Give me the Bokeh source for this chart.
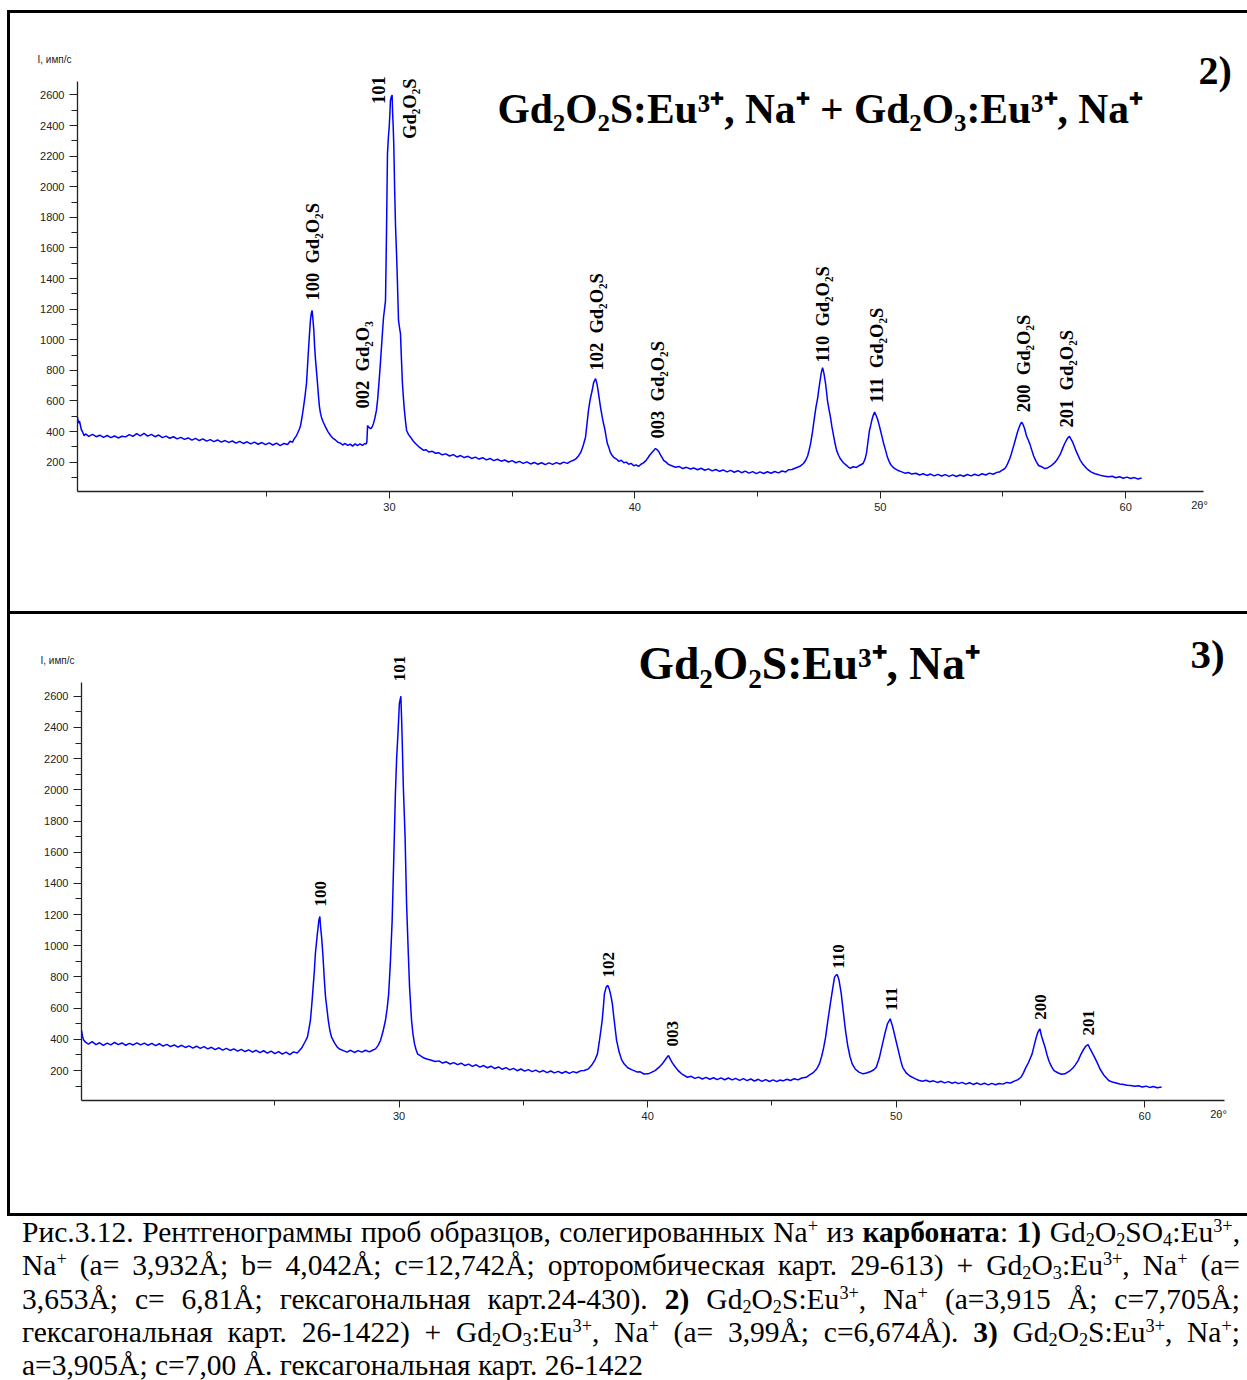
from bokeh.plotting import figure
from bokeh.models import Range1d, FixedTicker, Label, Div, Spacer, LinearAxis
from bokeh.layouts import column, row
from bokeh.embed import file_html
from bokeh.resources import INLINE

# ---------------------------------------------------------------------------
# Diffraction scans: (2θ, degrees ; intensity, counts per second)
# ---------------------------------------------------------------------------
scan_2 = [
    (17.29, 494), (17.33, 455), (17.37, 470), (17.45, 410), (17.49, 400), (17.56, 372),
    (17.62, 385), (17.75, 368), (17.90, 381), (18.05, 366), (18.20, 376), (18.35, 362),
    (18.50, 374), (18.65, 360), (18.80, 371), (18.95, 358), (19.10, 369), (19.25, 365),
    (19.40, 380), (19.55, 368), (19.70, 386), (19.85, 372), (20.00, 388), (20.15, 370),
    (20.30, 381), (20.45, 366), (20.60, 377), (20.75, 360), (20.90, 370), (21.05, 356),
    (21.20, 366), (21.35, 352), (21.50, 362), (21.65, 349), (21.80, 358), (21.95, 344),
    (22.10, 355), (22.25, 341), (22.40, 352), (22.55, 337), (22.70, 347), (22.85, 334),
    (23.00, 345), (23.15, 331), (23.30, 341), (23.45, 329), (23.60, 338), (23.75, 324),
    (23.90, 336), (24.05, 322), (24.20, 333), (24.35, 319), (24.50, 331), (24.65, 317),
    (24.80, 328), (24.95, 314), (25.10, 326), (25.25, 312), (25.40, 324), (25.55, 308),
    (25.70, 322), (25.85, 315), (25.95, 336), (26.05, 330), (26.12, 352), (26.20, 370),
    (26.25, 387), (26.32, 412), (26.38, 440), (26.44, 495), (26.50, 559), (26.56, 630),
    (26.62, 714), (26.66, 820), (26.70, 930), (26.74, 1030), (26.78, 1126), (26.82, 1175),
    (26.85, 1191), (26.88, 1140), (26.92, 1061), (26.95, 960), (26.99, 865), (27.03, 790),
    (27.07, 714), (27.11, 630), (27.15, 559), (27.19, 520), (27.23, 494), (27.30, 462),
    (27.40, 429), (27.50, 398), (27.60, 374), (27.70, 356), (27.80, 345), (27.90, 330),
    (28.00, 324), (28.10, 312), (28.20, 322), (28.30, 309), (28.40, 318), (28.50, 305),
    (28.60, 319), (28.70, 308), (28.80, 320), (28.90, 309), (29.00, 322), (29.05, 318),
    (29.08, 330), (29.11, 440), (29.15, 428), (29.19, 425), (29.23, 418), (29.27, 424),
    (29.31, 436), (29.35, 453), (29.41, 490), (29.47, 538), (29.52, 610), (29.56, 690),
    (29.60, 775), (29.64, 865), (29.70, 1010), (29.76, 1147), (29.80, 1200), (29.84, 1256),
    (29.86, 1470), (29.88, 1693), (29.90, 1950), (29.92, 2215), (29.96, 2330), (29.99, 2388),
    (30.02, 2480), (30.04, 2563), (30.08, 2590), (30.11, 2600), (30.13, 2480), (30.15, 2411),
    (30.18, 2258), (30.21, 2000), (30.25, 1735), (30.29, 1560), (30.32, 1408), (30.37, 1126),
    (30.41, 1080), (30.45, 1040), (30.49, 870), (30.53, 714), (30.57, 620), (30.61, 538),
    (30.66, 460), (30.70, 407), (30.78, 380), (30.86, 363), (30.96, 340), (31.06, 322),
    (31.20, 300), (31.30, 288), (31.39, 277), (31.50, 281), (31.60, 266), (31.75, 271),
    (31.88, 258), (32.00, 262), (32.15, 248), (32.30, 254), (32.45, 240), (32.60, 249),
    (32.75, 234), (32.90, 243), (33.05, 230), (33.20, 238), (33.35, 224), (33.50, 233),
    (33.65, 220), (33.80, 229), (33.95, 215), (34.10, 224), (34.25, 210), (34.40, 219),
    (34.55, 206), (34.70, 214), (34.85, 201), (35.00, 210), (35.15, 196), (35.30, 205),
    (35.45, 192), (35.60, 202), (35.75, 188), (35.90, 198), (36.05, 186), (36.20, 196),
    (36.35, 184), (36.50, 195), (36.65, 185), (36.80, 197), (36.95, 188), (37.10, 200),
    (37.25, 192), (37.38, 205), (37.50, 212), (37.62, 225), (37.70, 240), (37.79, 262),
    (37.88, 300), (37.95, 340), (37.99, 363), (38.05, 450), (38.11, 538), (38.18, 610),
    (38.26, 668), (38.32, 720), (38.40, 746), (38.46, 710), (38.52, 648), (38.60, 560),
    (38.67, 494), (38.72, 455), (38.77, 420), (38.83, 365), (38.88, 321), (38.95, 290),
    (39.01, 260), (39.07, 245), (39.13, 233), (39.25, 220), (39.35, 205), (39.45, 212),
    (39.55, 196), (39.65, 200), (39.75, 186), (39.85, 192), (39.95, 176), (40.05, 182),
    (40.15, 172), (40.25, 186), (40.35, 195), (40.45, 210), (40.52, 225), (40.60, 245),
    (40.68, 260), (40.76, 275), (40.84, 289), (40.90, 282), (40.97, 270), (41.05, 245),
    (41.12, 228), (41.17, 211), (41.27, 200), (41.37, 185), (41.50, 176), (41.66, 167),
    (41.80, 172), (41.95, 158), (42.10, 166), (42.27, 155), (42.40, 162), (42.55, 150),
    (42.70, 160), (42.85, 147), (43.00, 156), (43.15, 143), (43.30, 152), (43.45, 140),
    (43.60, 149), (43.75, 136), (43.90, 146), (44.05, 134), (44.20, 144), (44.35, 131),
    (44.50, 141), (44.65, 128), (44.80, 138), (44.95, 125), (45.10, 136), (45.25, 126),
    (45.40, 137), (45.55, 127), (45.70, 139), (45.85, 130), (46.00, 142), (46.15, 136),
    (46.26, 150), (46.40, 152), (46.55, 162), (46.65, 168), (46.75, 175), (46.87, 191),
    (46.96, 212), (47.04, 240), (47.10, 278), (47.16, 321), (47.24, 400), (47.32, 494),
    (47.38, 560), (47.45, 620), (47.49, 670), (47.53, 714), (47.59, 780), (47.65, 818),
    (47.71, 775), (47.77, 714), (47.81, 660), (47.85, 600), (47.91, 545), (47.97, 494),
    (48.03, 430), (48.10, 370), (48.16, 320), (48.22, 277), (48.30, 245), (48.38, 220),
    (48.50, 196), (48.60, 182), (48.70, 168), (48.77, 160), (48.90, 170), (49.03, 165),
    (49.15, 178), (49.30, 191), (49.38, 220), (49.44, 260), (49.50, 335), (49.56, 407),
    (49.61, 440), (49.65, 470), (49.71, 505), (49.77, 527), (49.83, 505), (49.89, 480),
    (49.95, 445), (50.01, 407), (50.08, 360), (50.14, 320), (50.22, 275), (50.29, 233),
    (50.36, 205), (50.42, 185), (50.55, 162), (50.73, 145), (50.85, 138), (51.00, 128),
    (51.15, 132), (51.28, 122), (51.45, 127), (51.60, 116), (51.75, 124), (51.90, 113),
    (52.05, 122), (52.20, 110), (52.35, 120), (52.50, 109), (52.65, 118), (52.80, 107),
    (52.95, 117), (53.10, 106), (53.25, 116), (53.40, 108), (53.55, 119), (53.70, 110),
    (53.85, 121), (54.00, 112), (54.15, 124), (54.30, 116), (54.45, 128), (54.60, 121),
    (54.75, 133), (54.85, 135), (54.95, 146), (55.05, 155), (55.11, 165), (55.19, 190),
    (55.27, 220), (55.33, 248), (55.38, 277), (55.45, 315), (55.51, 350), (55.58, 390),
    (55.64, 420), (55.70, 445), (55.76, 461), (55.82, 445), (55.88, 420), (55.92, 395),
    (55.96, 370), (56.03, 345), (56.09, 321), (56.17, 280), (56.25, 240), (56.35, 205),
    (56.45, 178), (56.60, 168), (56.70, 158), (56.81, 162), (56.95, 175), (57.06, 190),
    (57.15, 205), (57.23, 222), (57.29, 240), (57.35, 257), (57.43, 290), (57.51, 320),
    (57.60, 348), (57.66, 362), (57.71, 368), (57.77, 350), (57.84, 330), (57.90, 305),
    (57.96, 280), (58.06, 244), (58.15, 212), (58.24, 190), (58.40, 160), (58.50, 146),
    (58.60, 135), (58.75, 124), (58.90, 118), (59.00, 112), (59.15, 108), (59.30, 104),
    (59.45, 108), (59.60, 98), (59.75, 104), (59.90, 95), (60.05, 102), (60.20, 93),
    (60.35, 99), (60.50, 90), (60.65, 96),
]

scan_3 = [
    (17.22, 457), (17.26, 420), (17.30, 398), (17.38, 382), (17.50, 370), (17.65, 385),
    (17.80, 366), (17.95, 378), (18.10, 362), (18.25, 376), (18.40, 365), (18.55, 380),
    (18.70, 366), (18.85, 377), (19.00, 362), (19.15, 374), (19.30, 364), (19.45, 378),
    (19.60, 365), (19.75, 376), (19.90, 362), (20.05, 374), (20.20, 360), (20.35, 372),
    (20.50, 357), (20.65, 368), (20.80, 353), (20.95, 364), (21.10, 350), (21.25, 362),
    (21.40, 348), (21.55, 358), (21.70, 344), (21.85, 356), (22.00, 342), (22.15, 353),
    (22.30, 339), (22.45, 349), (22.60, 334), (22.75, 346), (22.90, 331), (23.05, 342),
    (23.20, 329), (23.35, 339), (23.50, 325), (23.65, 336), (23.80, 322), (23.95, 333),
    (24.10, 318), (24.25, 330), (24.40, 315), (24.55, 327), (24.70, 312), (24.85, 325),
    (25.00, 308), (25.15, 322), (25.30, 305), (25.45, 318), (25.60, 302), (25.75, 320),
    (25.90, 312), (26.00, 330), (26.10, 350), (26.20, 380), (26.31, 414), (26.37, 465),
    (26.43, 521), (26.49, 630), (26.54, 735), (26.59, 840), (26.63, 949), (26.70, 1060),
    (26.77, 1163), (26.81, 1188), (26.84, 1120), (26.88, 1056), (26.93, 950), (26.97, 842),
    (27.00, 760), (27.04, 671), (27.10, 590), (27.15, 521), (27.21, 460), (27.28, 414),
    (27.40, 378), (27.51, 350), (27.60, 338), (27.76, 328), (27.90, 318), (28.05, 330),
    (28.20, 316), (28.35, 328), (28.50, 318), (28.65, 330), (28.80, 320), (28.95, 332),
    (29.05, 339), (29.15, 360), (29.25, 393), (29.35, 450), (29.45, 521), (29.52, 600),
    (29.58, 692), (29.65, 900), (29.72, 1163), (29.79, 1591), (29.85, 1976), (29.90, 2200),
    (29.96, 2382), (30.01, 2553), (30.07, 2600), (30.11, 2403), (30.17, 2018), (30.24, 1697),
    (30.30, 1270), (30.37, 949), (30.42, 735), (30.50, 521), (30.56, 430), (30.62, 371),
    (30.68, 335), (30.74, 307), (30.85, 295), (31.00, 280), (31.15, 272), (31.30, 266),
    (31.45, 258), (31.60, 262), (31.75, 248), (31.90, 256), (32.05, 242), (32.20, 251),
    (32.35, 238), (32.50, 247), (32.65, 232), (32.80, 241), (32.95, 227), (33.10, 237),
    (33.25, 222), (33.40, 232), (33.55, 218), (33.70, 228), (33.85, 213), (34.00, 223),
    (34.15, 208), (34.30, 219), (34.45, 204), (34.60, 214), (34.75, 199), (34.90, 210),
    (35.05, 196), (35.20, 206), (35.35, 193), (35.50, 203), (35.65, 190), (35.80, 200),
    (35.95, 187), (36.10, 197), (36.25, 185), (36.40, 195), (36.55, 183), (36.70, 194),
    (36.85, 182), (37.00, 193), (37.14, 186), (37.30, 198), (37.45, 200), (37.62, 211),
    (37.75, 235), (37.87, 265), (37.98, 307), (38.05, 380), (38.12, 460), (38.17, 521),
    (38.22, 610), (38.26, 692), (38.33, 735), (38.40, 746), (38.46, 720), (38.52, 680),
    (38.58, 628), (38.64, 540), (38.70, 460), (38.75, 393), (38.85, 320), (38.95, 270),
    (39.05, 243), (39.20, 218), (39.35, 206), (39.50, 196), (39.58, 190), (39.70, 192),
    (39.85, 178), (40.02, 179), (40.15, 188), (40.30, 200), (40.45, 220), (40.59, 243),
    (40.70, 268), (40.78, 285), (40.84, 296), (40.92, 270), (41.00, 248), (41.12, 221),
    (41.25, 196), (41.40, 175), (41.60, 157), (41.75, 163), (41.90, 150), (42.05, 158),
    (42.20, 146), (42.35, 156), (42.50, 144), (42.65, 154), (42.80, 142), (42.95, 153),
    (43.10, 141), (43.25, 152), (43.40, 140), (43.54, 150), (43.70, 137), (43.85, 148),
    (44.00, 135), (44.15, 146), (44.30, 133), (44.45, 144), (44.60, 131), (44.75, 142),
    (44.90, 130), (45.05, 140), (45.20, 129), (45.31, 139), (45.45, 134), (45.60, 144),
    (45.75, 136), (45.90, 148), (46.05, 140), (46.20, 152), (46.38, 157), (46.50, 170),
    (46.65, 185), (46.80, 210), (46.91, 243), (47.00, 290), (47.08, 345), (47.16, 414),
    (47.25, 520), (47.35, 628), (47.44, 720), (47.52, 799), (47.58, 812), (47.63, 814),
    (47.70, 780), (47.79, 692), (47.87, 580), (47.96, 457), (48.05, 360), (48.14, 290),
    (48.23, 243), (48.35, 210), (48.50, 190), (48.67, 179), (48.80, 184), (48.95, 192),
    (49.10, 205), (49.20, 221), (49.32, 280), (49.45, 371), (49.55, 440), (49.65, 500),
    (49.76, 532), (49.86, 480), (49.99, 393), (50.10, 320), (50.18, 265), (50.26, 221),
    (50.40, 185), (50.55, 165), (50.78, 147), (50.90, 138), (51.05, 132), (51.20, 138),
    (51.35, 128), (51.50, 134), (51.65, 124), (51.80, 131), (51.95, 121), (52.10, 129),
    (52.25, 119), (52.38, 126), (52.50, 116), (52.65, 124), (52.80, 113), (52.95, 122),
    (53.10, 111), (53.25, 120), (53.40, 110), (53.55, 119), (53.70, 108), (53.85, 118),
    (54.00, 109), (54.14, 117), (54.30, 113), (54.45, 124), (54.60, 120), (54.75, 132),
    (54.90, 142), (55.02, 157), (55.12, 185), (55.22, 220), (55.32, 250), (55.40, 280),
    (55.47, 307), (55.55, 360), (55.63, 410), (55.70, 445), (55.78, 468), (55.85, 420),
    (55.92, 385), (55.99, 350), (56.07, 300), (56.15, 260), (56.25, 225), (56.35, 200),
    (56.50, 186), (56.65, 176), (56.79, 179), (56.90, 190), (57.00, 200), (57.10, 215),
    (57.20, 235), (57.32, 264), (57.42, 300), (57.52, 330), (57.62, 355), (57.72, 367),
    (57.80, 340), (57.90, 310), (58.00, 280), (58.11, 243), (58.20, 210), (58.35, 172),
    (58.55, 136), (58.70, 126), (58.85, 120), (59.00, 114), (59.15, 110), (59.30, 106),
    (59.43, 104), (59.60, 99), (59.75, 103), (59.90, 95), (60.05, 100), (60.20, 92),
    (60.35, 98), (60.50, 90), (60.68, 95),
]

# Reflection labels: text and the 2θ of the peak each one marks
labels_2 = ["100\u00a0\u00a0Gd₂O₂S", "002\u00a0\u00a0Gd₂O₃", "101", "Gd₂O₂S",
            "102\u00a0\u00a0Gd₂O₂S", "003\u00a0\u00a0Gd₂O₂S", "110\u00a0\u00a0Gd₂O₂S",
            "111\u00a0\u00a0Gd₂O₂S", "200\u00a0\u00a0Gd₂O₂S", "201\u00a0\u00a0Gd₂O₂S"]
label_peaks_2 = [26.85, 29.11, 30.11, 30.11, 38.40, 40.84, 47.65, 49.77, 55.76, 57.71]

labels_3 = ["100", "101", "102", "003", "110", "111", "200", "201"]
label_peaks_3 = [26.81, 30.07, 38.40, 40.84, 47.63, 49.76, 55.78, 57.72]

x_major = [30, 40, 50, 60]
x_minor = [25, 35, 45, 55]
y_major = [200, 400, 600, 800, 1000, 1200, 1400, 1600, 1800, 2000, 2200, 2400, 2600]
y_minor = [100, 300, 500, 700, 900, 1100, 1300, 1500, 1700, 1900, 2100, 2300, 2500]

title_2 = "Gd₂O₂S:Eu³⁺, Na⁺ + Gd₂O₃:Eu³⁺, Na⁺"
title_3 = "Gd₂O₂S:Eu³⁺, Na⁺"
y_title = "I, имп/с"
x_title = "2θ°"

caption_lines = [
    'Рис.3.12. Рентгенограммы проб образцов, солегированных Na<sup>+</sup> из <b>карбоната</b>: '
    '<b>1)</b> Gd<sub>2</sub>O<sub>2</sub>SO<sub>4</sub>:Eu<sup>3+</sup>,',
    'Na<sup>+</sup> (a= 3,932Å; b= 4,042Å; c=12,742Å; орторомбическая карт. 29-613) + '
    'Gd<sub>2</sub>O<sub>3</sub>:Eu<sup>3+</sup>, Na<sup>+</sup> (a=',
    '3,653Å; c= 6,81Å; гексагональная карт.24-430). <b>2)</b> Gd<sub>2</sub>O<sub>2</sub>S:Eu<sup>3+</sup>, '
    'Na<sup>+</sup> (a=3,915 Å; c=7,705Å;',
    'гексагональная карт. 26-1422) + Gd<sub>2</sub>O<sub>3</sub>:Eu<sup>3+</sup>, Na<sup>+</sup> '
    '(a= 3,99Å; c=6,674Å). <b>3)</b> Gd<sub>2</sub>O<sub>2</sub>S:Eu<sup>3+</sup>, Na<sup>+</sup>;',
    'a=3,905Å; c=7,00 Å. гексагональная карт. 26-1422',
]

# ---------------------------------------------------------------------------
SERIF = "Liberation Serif"
SANS = "Liberation Sans"
Y_START, Y_END = 8, 2688
PAGE_W = 1247
AXIS_COLOR = "#222222"


class Panel:
    """One diffractogram.  The plotting frame fills the whole canvas so that
    titles and labels can sit anywhere; the axes are pinned to the corner of
    the data box and limited to it with ``bounds``."""

    def __init__(self, scan, x_start, x_end, w, h, left, right, top, bottom):
        self.x0, self.x1 = x_start, x_end
        self.fw = w - left - right
        self.fh = h - top - bottom
        self.kx = (x_end - x_start) / self.fw
        self.ky = (Y_END - Y_START) / self.fh
        p = figure(width=w, height=h, title=None,
                   x_range=Range1d(x_start - left * self.kx, x_end + right * self.kx),
                   y_range=Range1d(Y_START - bottom * self.ky, Y_END + top * self.ky),
                   x_axis_location=None, y_axis_location=None,
                   output_backend="svg", toolbar_location=None, min_border=0,
                   background_fill_color="white", border_fill_color="white")
        p.outline_line_color = None
        p.grid.visible = False
        p.line([t for t, _ in scan], [c for _, c in scan], line_color="#0000ff", line_width=1.5)
        self.scan = dict(scan)

        xa = LinearAxis(fixed_location=Y_START, bounds=(x_start, x_end),
                        ticker=FixedTicker(ticks=x_major, minor_ticks=x_minor),
                        major_tick_out=7, minor_tick_out=5, major_label_standoff=4)
        ya = LinearAxis(fixed_location=x_start, bounds=(Y_START, Y_END),
                        ticker=FixedTicker(ticks=y_major, minor_ticks=y_minor),
                        major_tick_out=8, minor_tick_out=6, major_label_standoff=5)
        for ax in (xa, ya):
            ax.axis_line_color = AXIS_COLOR
            ax.axis_line_width = 1.3
            ax.major_tick_line_color = AXIS_COLOR
            ax.minor_tick_line_color = AXIS_COLOR
            ax.major_tick_in = 0
            ax.minor_tick_in = 0
            ax.major_label_text_font = SANS
            ax.major_label_text_font_size = "11px"
            ax.major_label_text_color = AXIS_COLOR
        p.add_layout(xa, "below")
        p.add_layout(ya, "left")
        self.p = p

    def to_data(self, fx, fy):
        """Pixel offset from the data box's top-left corner, in data units."""
        return self.x0 + fx * self.kx, Y_END - fy * self.ky

    def text(self, fx, fy, text, size, font=SERIF, bold=True, align="left",
             baseline="alphabetic", color="black"):
        x, y = self.to_data(fx, fy)
        self.p.add_layout(Label(x=x, y=y, text=text, text_font=font,
                                text_font_size=f"{size}px",
                                text_font_style="bold" if bold else "normal",
                                text_align=align, text_baseline=baseline,
                                text_color=color))

    def peak_labels(self, texts, peaks, shifts, size):
        for txt, tt, (dx, dy) in zip(texts, peaks, shifts):
            self.p.add_layout(Label(x=tt + dx * self.kx, y=self.scan[tt] + dy * self.ky,
                                    text=txt, angle=90, angle_units="deg",
                                    text_align="left", text_baseline="middle",
                                    text_font=SERIF, text_font_style="bold",
                                    text_font_size=f"{size}px", text_color="black"))


# upper panel: mixed oxysulfide + oxide phases
top_panel = Panel(scan_2, 17.29, 63.17, 1237, 598, 67, 44, 68, 120)
top_panel.peak_labels(labels_2, label_peaks_2,
                      [(1, 10), (-5, 17), (-14, -9), (18, -44), (1, 8), (3, 10),
                       (0, 5), (2, 9), (2, 10), (-2, 9)], 18.5)
top_panel.text(420, 27, title_2, 41.5)
top_panel.text(1121, -11, "2)", 40)
top_panel.text(-40, -22, y_title, 10, font=SANS, bold=False, baseline="middle", color=AXIS_COLOR)
top_panel.text(1122, 423, x_title, 11, font=SANS, bold=False, align="center", baseline="middle",
               color=AXIS_COLOR)

# lower panel: single oxysulfide phase
low_panel = Panel(scan_3, 17.22, 63.21, 1237, 599, 71, 23, 68, 113)
low_panel.peak_labels(labels_3, label_peaks_3,
                      [(1, 10), (-1, 15), (1, 8), (4, 9), (1, 6), (1, 8), (1, 9), (0, 9)], 17)
low_panel.text(557, -19, title_3, 45.5)
low_panel.text(1109, -29, "3)", 41)
low_panel.text(-41, -22, y_title, 10, font=SANS, bold=False, baseline="middle", color=AXIS_COLOR)
low_panel.text(1137, 431, x_title, 11, font=SANS, bold=False, align="center", baseline="middle",
               color=AXIS_COLOR)


def rule(w, h):
    return Div(text="", width=w, height=h, margin=0, styles={"background-color": "black"})


line_divs = []
for i, ln in enumerate(caption_lines):
    last = i == len(caption_lines) - 1
    align = "text-align:left;" if last else "text-align:justify;text-align-last:justify;"
    line_divs.append(f'<div style="{align}white-space:nowrap;">{ln}</div>')

caption_html = (
    "<style>sup,sub{font-size:0.62em;line-height:0;}sup{vertical-align:0.55em;}"
    "sub{vertical-align:-0.22em;}b{font-weight:bold;}</style>"
    f'<div style="position:relative;top:0px;margin-left:22px;width:1218px;'
    f"font-family:'{SERIF}';font-size:29.5px;line-height:33.3px;color:black;\">"
    + "".join(line_divs) + "</div>"
)
caption = Div(text=caption_html, width=PAGE_W, height=164, margin=0)

page = column(
    Spacer(width=PAGE_W, height=10),
    row(Spacer(width=7, height=3), rule(1240, 3)),
    row(Spacer(width=7, height=598), rule(3, 598), top_panel.p),
    row(Spacer(width=7, height=3), rule(1240, 3)),
    row(Spacer(width=7, height=599), rule(3, 599), low_panel.p),
    row(Spacer(width=7, height=3), rule(1240, 3)),
    caption,
)

open("out.html", "w").write(file_html(page, INLINE))
